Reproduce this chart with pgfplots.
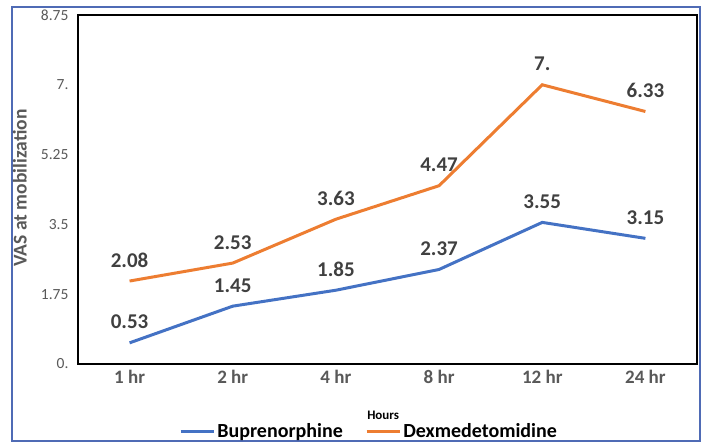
\documentclass[border=0pt]{standalone}
\usepackage{pgfplots}
\pgfplotsset{compat=1.18}
\usepackage{fontspec}
\setmainfont{Carlito}
\definecolor{cblue}{HTML}{4472C4}
\definecolor{corange}{HTML}{ED7D31}
\definecolor{tgray}{HTML}{595959}
\definecolor{dgray}{HTML}{404040}
\definecolor{frame}{HTML}{4F6BB5}
\begin{document}
\begin{tikzpicture}[x=1pt,y=1pt]
\useasboundingbox (0,0) rectangle (706,443);
\draw[frame,line width=1.5pt] (12,2) rectangle (700,436);
\begin{axis}[
  at={(78pt,79pt)}, anchor=south west,
  scale only axis, width=619pt, height=349pt,
  xmin=-0.5, xmax=5.5, ymin=0, ymax=8.75,
  xtick={0,1,2,3,4,5},
  xticklabels={1 hr,2 hr,4 hr,8 hr,12 hr,24 hr},
  ytick={0,1.75,3.5,5.25,7,8.75},
  yticklabels={0.,1.75,3.5,5.25,7.,8.75},
  major tick length=0pt,
  axis line style={black,line width=1.3pt},
  x tick label style={font=\fontsize{19}{22}\selectfont\bfseries,text=tgray,yshift=-3pt},
  y tick label style={font=\fontsize{15.5}{18}\selectfont,text=tgray,xshift=-6pt},
  ylabel={VAS at mobilization},
  ylabel style={font=\fontsize{19.5}{22}\selectfont\bfseries,text=tgray,at={(axis description cs:-0.094,0.504)},anchor=center},
  xlabel={Hours},
  xlabel style={font=\fontsize{13}{15}\selectfont\bfseries,text=black,at={(axis description cs:0.493,-0.146)},anchor=center},
  legend style={draw=none,fill=none,at={(axis description cs:0.163,-0.193)},anchor=west,
    font=\fontsize{20}{22}\selectfont\bfseries,legend cell align=left,
    inner sep=0pt,outer sep=0pt,
    /tikz/every even column/.append style={column sep=20pt}},
  legend columns=2,
  legend image code/.code={\draw[#1,line width=3.5pt] (0pt,0pt) -- (33pt,0pt);},
  every node near coord/.append style={font=\fontsize{21}{24}\selectfont\bfseries,text=dgray,anchor=south,yshift=9pt},
  clip=false,
]
\addplot[cblue,line width=3pt,nodes near coords,point meta=explicit symbolic] coordinates {
 (0,0.53) [0.53] (1,1.45) [1.45] (2,1.85) [1.85] (3,2.37) [2.37] (4,3.55) [3.55] (5,3.15) [3.15]};
\addlegendentry{Buprenorphine}
\addplot[corange,line width=3pt,nodes near coords,point meta=explicit symbolic] coordinates {
 (0,2.08) [2.08] (1,2.53) [2.53] (2,3.63) [3.63] (3,4.47) [4.47] (4,7.00) [7.] (5,6.33) [6.33]};
\addlegendentry{Dexmedetomidine}
\end{axis}
\end{tikzpicture}
\end{document}
